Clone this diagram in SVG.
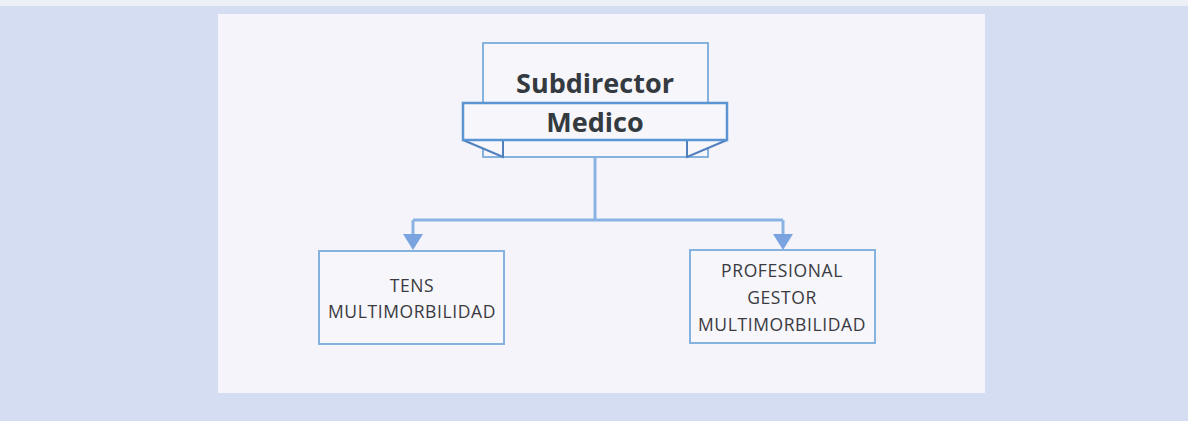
<svg xmlns="http://www.w3.org/2000/svg" width="1188" height="421" viewBox="0 0 1188 421">
<style>
.box{fill:#f6f6fb;stroke:#86b2e0;stroke-width:2}
.ln{fill:none;stroke:#8ab3e3;stroke-width:3}
.t{font-family:"Open Sans","Liberation Sans",sans-serif;font-size:17.5px;letter-spacing:0.6px;fill:#3a3a40;text-anchor:middle}
.h{font-family:"Open Sans","Liberation Sans",sans-serif;font-size:27px;font-weight:bold;fill:#333a40;text-anchor:middle}
.arr{fill:#7aa3e0}
</style>
<rect width="1188" height="421" fill="#d5ddf3"/>
<rect width="1188" height="6" fill="#eef0f8"/>
<rect x="218" y="14" width="767" height="379" fill="#f4f4fa"/>
<g id="connectors">
<path class="ln" d="M595 157V220M413 220H783M413 220V236M783 220V236"/>
<polygon class="arr" points="403,234 423,234 413,250"/>
<polygon class="arr" points="773,234 793,234 783,250"/>
</g>
<g id="subdirector">
<rect class="box" x="483" y="43" width="225" height="114"/>
<path d="M463 140L503 157V140ZM727 140L687 157V140Z" fill="#f6f6fb" stroke="#4f7fbc" stroke-width="2"/>
<rect x="463" y="103" width="264" height="37" fill="#f6f6fb" stroke="#5b95d3" stroke-width="2.5"/>
<text class="h" x="595" y="93">Subdirector</text>
<text class="h" x="595" y="132">Medico</text>
</g>
<g id="tens">
<rect class="box" x="319" y="251" width="185" height="93"/>
<text class="t" x="412" y="292">TENS</text>
<text class="t" x="412" y="318">MULTIMORBILIDAD</text>
</g>
<g id="profesional">
<rect class="box" x="690" y="250" width="185" height="93"/>
<text class="t" x="782" y="277">PROFESIONAL</text>
<text class="t" x="782" y="304">GESTOR</text>
<text class="t" x="782" y="331">MULTIMORBILIDAD</text>
</g>
</svg>
